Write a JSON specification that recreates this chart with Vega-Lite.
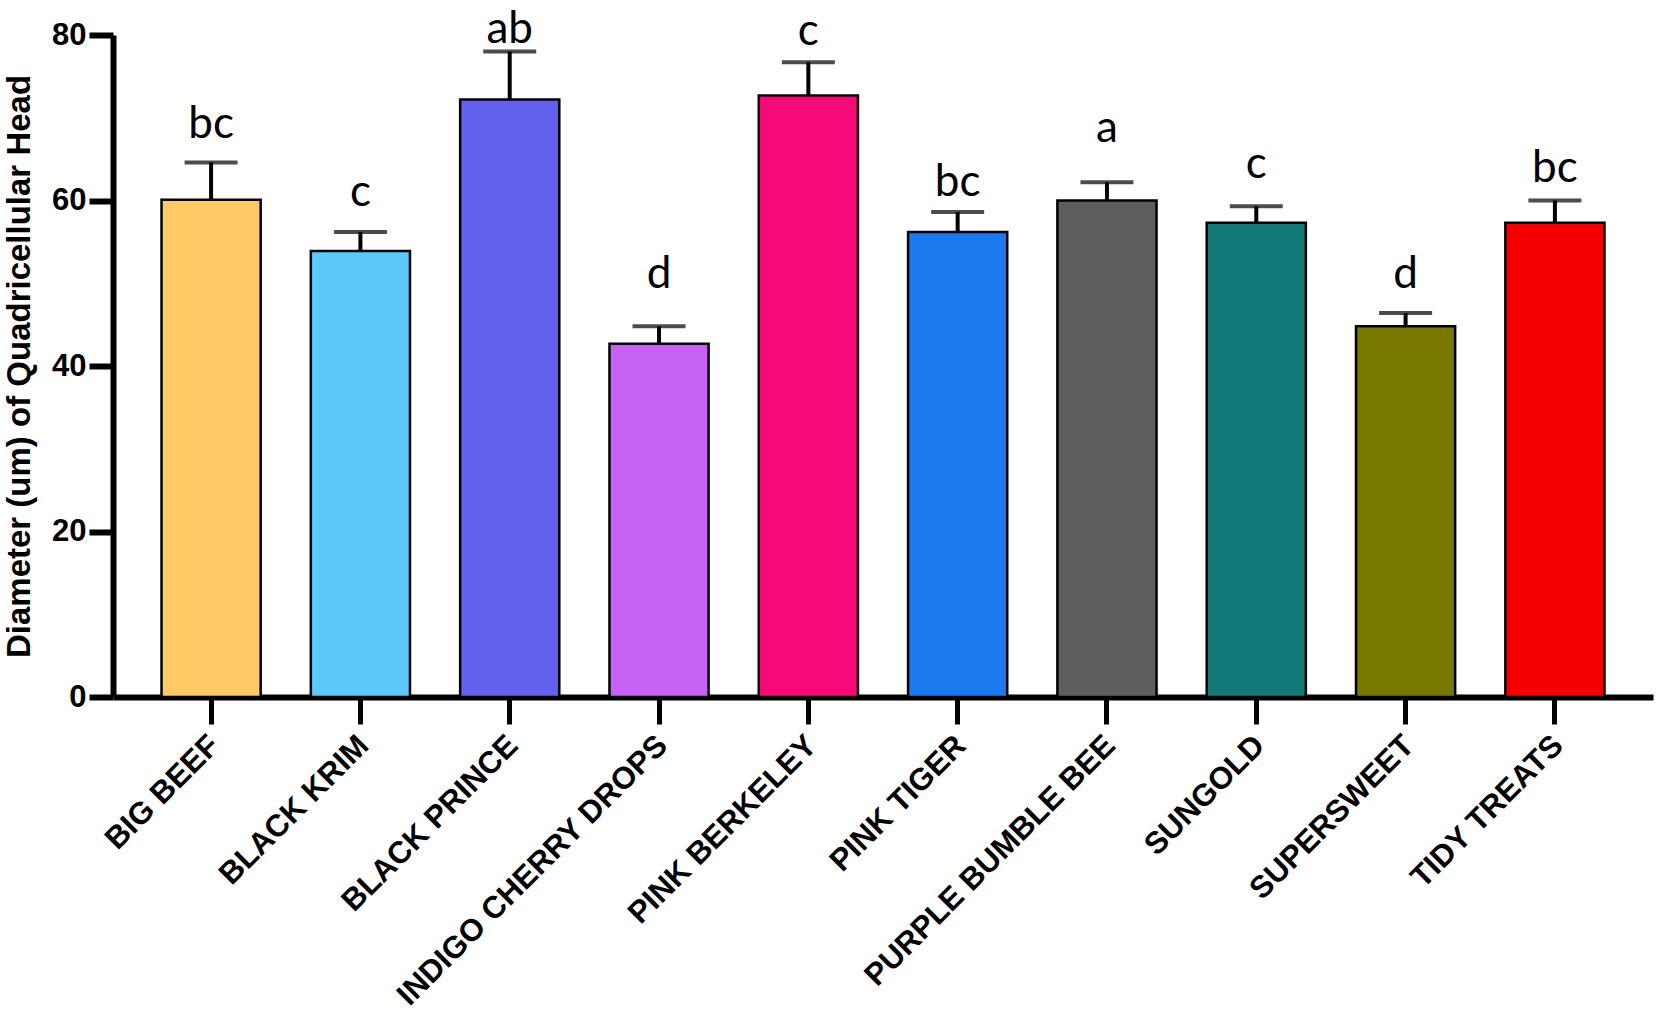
{
  "$schema": "https://vega.github.io/schema/vega-lite/v6.json",
  "autosize": {"type": "none"},
  "width": 1540,
  "height": 662,
  "padding": {"left": 113, "top": 35, "right": 3, "bottom": 315},
  "background": "white",
  "config": {"view": {"stroke": null}},
  "data": {
    "values": [
      {"variety": "BIG BEEF", "mean": 60.1, "err": 64.6, "group": "bc", "labelAt": 67.5, "color": "#FFC966"},
      {"variety": "BLACK KRIM", "mean": 53.9, "err": 56.2, "group": "c", "labelAt": 59.3, "color": "#5CC8FA"},
      {"variety": "BLACK PRINCE", "mean": 72.2, "err": 78.0, "group": "ab", "labelAt": 79.0, "color": "#6262EE"},
      {"variety": "INDIGO CHERRY DROPS", "mean": 42.7, "err": 44.8, "group": "d", "labelAt": 49.4, "color": "#C862F5"},
      {"variety": "PINK BERKELEY", "mean": 72.7, "err": 76.7, "group": "c", "labelAt": 78.8, "color": "#F50A78"},
      {"variety": "PINK TIGER", "mean": 56.2, "err": 58.6, "group": "bc", "labelAt": 60.5, "color": "#1C7AF0"},
      {"variety": "PURPLE BUMBLE BEE", "mean": 60.0, "err": 62.2, "group": "a", "labelAt": 67.1, "color": "#5E5E5E"},
      {"variety": "SUNGOLD", "mean": 57.3, "err": 59.3, "group": "c", "labelAt": 62.7, "color": "#127878"},
      {"variety": "SUPERSWEET", "mean": 44.8, "err": 46.4, "group": "d", "labelAt": 49.4, "color": "#787800"},
      {"variety": "TIDY TREATS", "mean": 57.3, "err": 60.0, "group": "bc", "labelAt": 62.2, "color": "#F50000"}
    ]
  },
  "encoding": {
    "x": {
      "field": "variety",
      "type": "nominal",
      "sort": null,
      "scale": {"paddingInner": 0.336, "paddingOuter": 0.325},
      "axis": {
        "title": null,
        "labelAngle": -45,
        "labelAlign": "right",
        "labelBaseline": "top",
        "labelFont": "Liberation Sans",
        "labelFontWeight": "bold",
        "labelFontSize": 31,
        "labelColor": "black",
        "labelPadding": 6,
        "labelOffset": -7,
        "labelLimit": 700,
        "domainColor": "black",
        "domainWidth": 6,
        "tickColor": "black",
        "tickWidth": 5,
        "tickSize": 27,
        "grid": false
      }
    }
  },
  "layer": [
    {
      "mark": {"type": "bar", "stroke": "black", "strokeWidth": 2.5},
      "encoding": {
        "y": {
          "field": "mean",
          "type": "quantitative",
          "scale": {"domain": [0, 80], "nice": false},
          "axis": {
            "title": "Diameter (um) of Quadricellular Head",
            "titleFont": "Liberation Sans",
            "titleFontWeight": "bold",
            "titleFontSize": 33,
            "titleColor": "black",
            "titleX": -94,
            "titleY": 331,
            "titleAngle": -90,
            "titleAlign": "center",
            "titleBaseline": "middle",
            "values": [0, 20, 40, 60, 80],
            "labelFont": "Liberation Sans",
            "labelFontWeight": "bold",
            "labelFontSize": 31,
            "labelColor": "black",
            "labelPadding": 3,
            "domainColor": "black",
            "domainWidth": 6,
            "tickColor": "black",
            "tickWidth": 6,
            "tickSize": 24,
            "grid": false
          }
        },
        "fill": {"field": "color", "type": "nominal", "scale": null, "legend": null}
      }
    },
    {
      "mark": {"type": "rule", "color": "black", "strokeWidth": 4},
      "encoding": {
        "y": {"field": "mean", "type": "quantitative"},
        "y2": {"field": "err"}
      }
    },
    {
      "mark": {"type": "tick", "color": "black", "thickness": 4, "size": 53, "orient": "horizontal"},
      "encoding": {
        "y": {"field": "err", "type": "quantitative"}
      }
    },
    {
      "mark": {"type": "text", "font": "Lato", "fontSize": 44, "baseline": "alphabetic", "align": "center", "color": "black"},
      "encoding": {
        "y": {"field": "labelAt", "type": "quantitative"},
        "text": {"field": "group"}
      }
    }
  ]
}
